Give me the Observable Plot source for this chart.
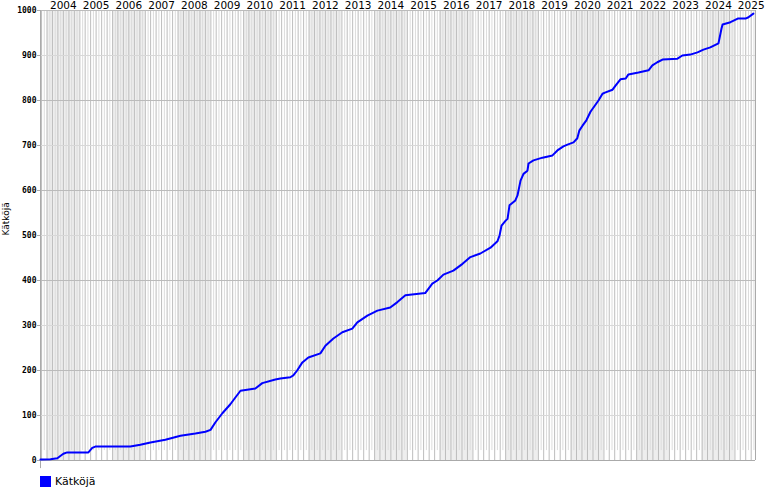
<!DOCTYPE html>
<html>
<head>
<meta charset="utf-8">
<script src="https://cdn.jsdelivr.net/npm/d3@7"></script>
<script src="https://cdn.jsdelivr.net/npm/@observablehq/plot@0.6"></script>
<style>
  body { margin: 0; background: #fff; }
  #chart svg { display: block; overflow: visible; }
  .legend { position: absolute; left: 40px; top: 475px; display: flex; align-items: center;
            font-family: "DejaVu Sans", sans-serif; font-size: 11px; color: #000; }
  .legend .sw { width: 11px; height: 11px; background: #0000ff; margin-right: 4px; }
</style>
</head>
<body>
<div id="chart"></div>
<div class="legend"><span class="sw"></span><span>Kätköjä</span></div>
<script>
// ---- data ----
const seriesName = "Kätköjä";
const dates = [
  "2003-10-20","2004-02-08","2004-04-25","2004-05-28","2004-07-01","2004-08-12",
  "2005-04-06","2005-05-19","2005-06-22","2006-07-18","2006-11-06","2007-02-27",
  "2007-08-12","2008-01-28","2008-07-12","2008-11-01","2008-12-28","2009-02-21",
  "2009-05-09","2009-08-06","2009-10-01","2009-11-27","2010-05-12","2010-07-28",
  "2010-12-21","2011-02-15","2011-06-06","2011-07-09","2011-08-21","2011-10-18",
  "2011-12-24","2012-05-06","2012-07-01","2012-09-28","2013-01-06","2013-04-27",
  "2013-06-22","2013-10-12","2014-02-01","2014-06-24","2014-09-12","2014-12-10",
  "2015-07-19","2015-10-06","2015-12-01","2016-02-07","2016-05-28","2016-09-07",
  "2016-12-04","2017-03-25","2017-07-16","2017-10-01","2017-10-25","2017-11-16",
  "2018-01-01","2018-01-22","2018-02-13","2018-04-19","2018-05-13","2018-06-16",
  "2018-07-19","2018-09-01","2018-09-13","2018-11-07","2019-02-16","2019-06-07",
  "2019-08-01","2019-10-07","2019-11-21","2020-01-28","2020-03-10","2020-04-01",
  "2020-05-07","2020-06-19","2020-08-04","2020-11-01","2020-12-16","2021-01-19",
  "2021-04-07","2021-05-10","2021-07-04","2021-09-01","2021-10-01","2022-01-21",
  "2022-05-13","2022-06-25","2022-08-19","2022-10-16","2023-04-01","2023-05-25",
  "2023-08-22","2023-11-10","2024-01-16","2024-04-01","2024-07-01","2024-08-04",
  "2024-08-16","2024-11-12","2025-02-01","2025-04-28","2025-06-01","2025-07-25"
];
const values = [
  2,3,5,10,15,18,
  18,28,31,31,35,40,
  46,55,60,64,68,85,
  105,125,140,155,160,172,
  180,182,185,189,200,218,
  229,238,255,271,285,293,
  307,322,333,340,352,367,
  372,393,400,413,422,437,
  452,460,473,487,500,522,
  533,537,567,578,589,622,
  637,644,660,667,673,678,
  689,698,702,707,716,733,
  744,756,775,800,815,818,
  824,833,847,849,858,862,
  867,878,885,891,893,900,
  902,907,913,918,927,960,
  969,974,982,982,985,993
];
const yearLabels = [2004,2005,2006,2007,2008,2009,2010,2011,2012,2013,2014,
                    2015,2016,2017,2018,2019,2020,2021,2022,2023,2024,2025];
const yTicks = [0,100,200,300,400,500,600,700,800,900,1000];
const xStart = "2003-10-20";
const xEnd = "2025-08-18";

// ---- build ----
const data = dates.map((d, i) => ({date: new Date(d), value: values[i]}));
const x0 = new Date(xStart), x1 = new Date(xEnd);
const clampD = d => d < x0 ? x0 : d > x1 ? x1 : d;
const bands = d3.range(2003, 2026).filter(y => y % 2 === 0).map(y => ({
  a: clampD(new Date(Date.UTC(y, 0, 1))), b: clampD(new Date(Date.UTC(y + 1, 0, 1)))
}));
const months = d3.utcMonth.range(d3.utcMonth.ceil(x0), x1);
const darkMonths = months.filter(d => d.getUTCMonth() % 2 === 0);
const lightMonths = months.filter(d => d.getUTCMonth() % 2 === 1);
const labelPos = yearLabels.map(y => ({y, d: new Date(Date.UTC(y, 6, 1))}));

const chart = Plot.plot({
  width: 770, height: 470,
  marginLeft: 40, marginRight: 15, marginTop: 10, marginBottom: 10,
  style: {fontFamily: "DejaVu Sans, sans-serif", background: "#fff"},
  x: {type: "utc", domain: [x0, x1], axis: null},
  y: {domain: [0, 1000], axis: null},
  marks: [
    Plot.rect(bands, {x1: "a", x2: "b", y1: 0, y2: 1000, fill: "#eeeeee"}),
    Plot.ruleX(lightMonths, {y1: 22, y2: 1000, stroke: "#dcdcdc", strokeWidth: 1}),
    Plot.ruleX(darkMonths, {y1: 0, y2: 1000, stroke: "#bdbdbd", strokeWidth: 1}),
    Plot.ruleY(yTicks.filter(v => v > 0), {stroke: v => (v / 100) % 2 === 0 ? "#bbbbbb" : "#d8d8d8"}),
    Plot.ruleX([x1], {y1: 0, y2: 1000, stroke: "#aaaaaa"}),
    Plot.ruleY([0], {stroke: "#aaaaaa"}),
    Plot.ruleX([x0], {y1: -18, y2: 1000, stroke: "#aaaaaa"}),
    Plot.axisY({ticks: yTicks, tickFormat: d => String(d), tickSize: 3, tickPadding: 1, stroke: "#aaaaaa",
      fontSize: 8, fontFamily: "DejaVu Sans Mono, monospace", fontWeight: "bold", label: null}),
    Plot.text([seriesName], {frameAnchor: "left", dx: -34, rotate: -90, fontSize: 9, fill: "#000"}),
    Plot.text(labelPos, {x: "d", y: 1000, text: d => String(d.y), dy: -5, lineAnchor: "middle",
      fontSize: 10.5, fill: "#000"}),
    Plot.line(data, {x: "date", y: "value", stroke: "#0000ff", strokeWidth: 2})
  ]
});
document.getElementById("chart").appendChild(chart);
</script>
</body>
</html>
